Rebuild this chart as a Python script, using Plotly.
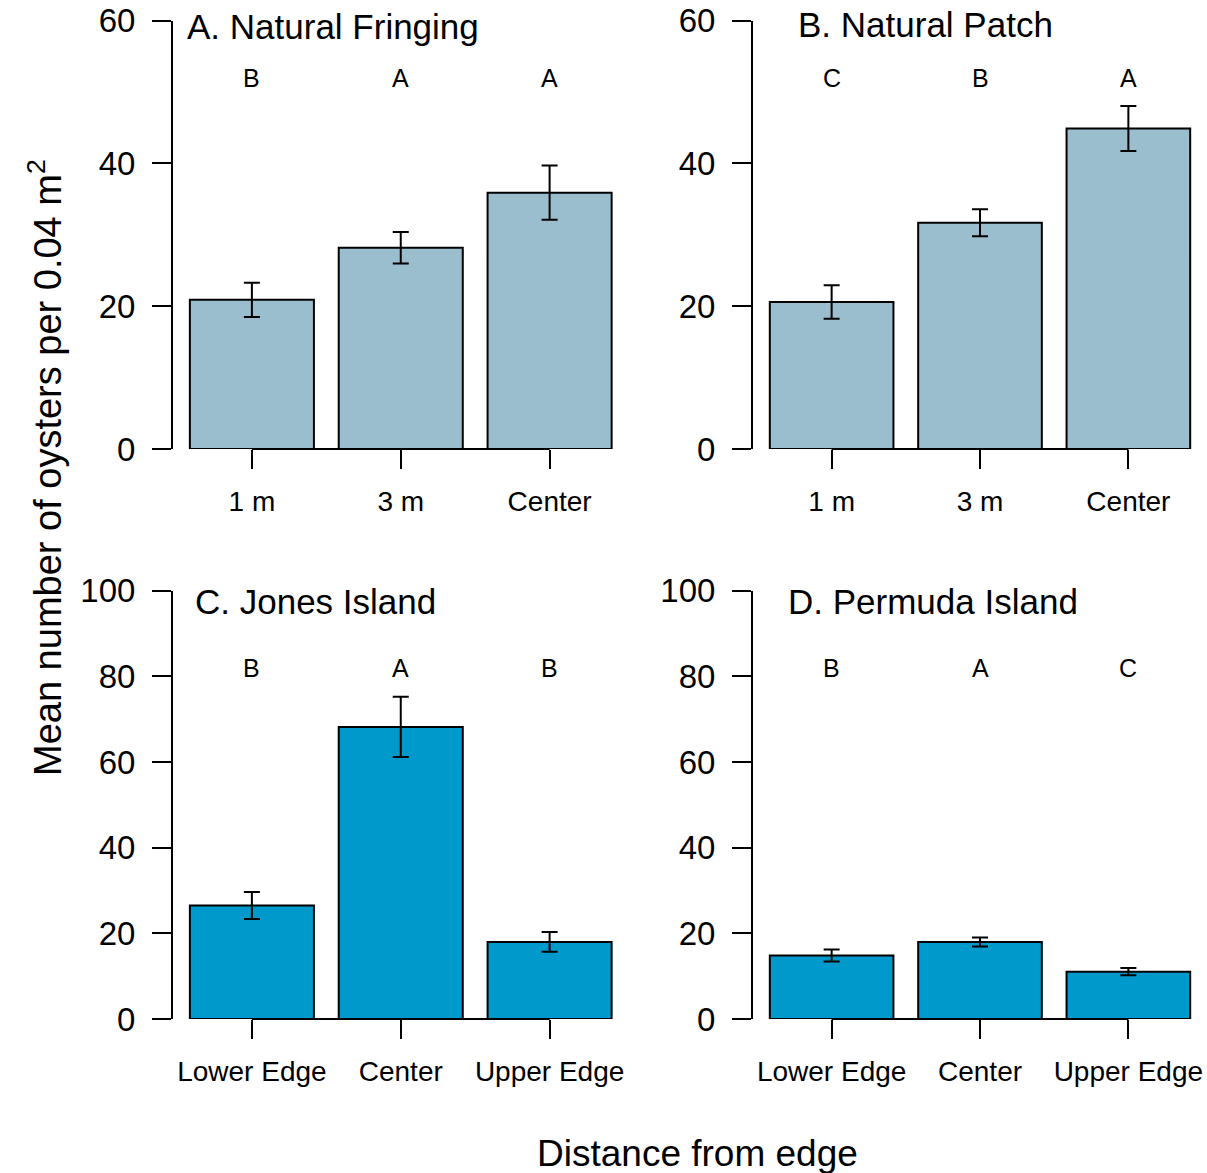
import plotly.graph_objects as go

W, H = 1207, 1173
FONT = "Liberation Sans, Arial, sans-serif"

# ---------------- data ----------------
cats_top = ["1 m", "3 m", "Center"]
cats_bot = ["Lower Edge", "Center", "Upper Edge"]

titles = ["A. Natural Fringing", "B. Natural Patch", "C. Jones Island", "D. Permuda Island"]

mean_A = [20.9, 28.2, 35.9]
se_A = [2.4, 2.2, 3.8]
letters_A = ["B", "A", "A"]

mean_B = [20.6, 31.7, 44.9]
se_B = [2.35, 1.9, 3.15]
letters_B = ["C", "B", "A"]

mean_C = [26.5, 68.2, 18.0]
se_C = [3.15, 7.05, 2.3]
letters_C = ["B", "A", "B"]

mean_D = [14.85, 18.0, 11.05]
se_D = [1.4, 1.05, 0.85]
letters_D = ["B", "A", "C"]

yticks_top = [0, 20, 40, 60]
yticks_bot = [0, 20, 40, 60, 80, 100]
letter_y_top = 52
letter_y_bot = 82

col_top = "#9BBECE"
col_bot = "#0099CC"

# ---------------- layout helpers ----------------
def px_x(p):
    return p / W

def px_y(p):
    return 1 - p / H

dom_x_left = [px_x(173.0), px_x(628.5)]
dom_x_right = [px_x(753.0), 1.0]
dom_y_top = [px_y(449), px_y(20.7)]
dom_y_bot = [px_y(1019), px_y(590.7)]

panels = [
    dict(cats=cats_top, mean=mean_A, se=se_A, letters=letters_A, col=col_top,
         xd=dom_x_left, yd=dom_y_top, yt=yticks_top, ly=letter_y_top,
         title=titles[0], tx=185, ty=27),
    dict(cats=cats_top, mean=mean_B, se=se_B, letters=letters_B, col=col_top,
         xd=dom_x_right, yd=dom_y_top, yt=yticks_top, ly=letter_y_top,
         title=titles[1], tx=795.7, ty=25),
    dict(cats=cats_bot, mean=mean_C, se=se_C, letters=letters_C, col=col_bot,
         xd=dom_x_left, yd=dom_y_bot, yt=yticks_bot, ly=letter_y_bot,
         title=titles[2], tx=193, ty=601),
    dict(cats=cats_bot, mean=mean_D, se=se_D, letters=letters_D, col=col_bot,
         xd=dom_x_right, yd=dom_y_bot, yt=yticks_bot, ly=letter_y_bot,
         title=titles[3], tx=786, ty=601),
]

fig = go.Figure()
annotations = []
shapes = []
LW = 2

for i, p in enumerate(panels):
    n = "" if i == 0 else str(i + 1)
    xa, ya = "x" + n, "y" + n
    fig.add_trace(go.Bar(
        x=p["cats"], y=p["mean"], xaxis=xa, yaxis=ya,
        marker=dict(color=p["col"], line=dict(color="black", width=LW)),
        error_y=dict(type="data", array=p["se"], visible=True,
                     color="black", thickness=LW, width=8),
        cliponaxis=False, showlegend=False, hoverinfo="skip",
    ))
    axis_common = dict(
        showgrid=False, zeroline=False, ticks="outside", ticklen=19,
        tickwidth=LW, tickcolor="black", linecolor="black", linewidth=LW,
        automargin=False,
    )
    fig.layout["xaxis" + n] = dict(
        axis_common, domain=p["xd"], anchor=ya, showline=False,
        type="category", range=[-0.53, 2.53],
        tickfont=dict(family=FONT, size=28, color="black"),
        ticklabelstandoff=8,
    )
    fig.layout["yaxis" + n] = dict(
        axis_common, domain=p["yd"], anchor=xa, showline=True,
        range=[0, p["yt"][-1]], tickvals=p["yt"],
        tickfont=dict(family=FONT, size=33, color="black"),
        ticklabelstandoff=10,
    )
    # x-axis line from first to last tick (R style)
    shapes.append(dict(type="line", xref=xa, yref=ya + " domain",
                       x0=p["cats"][0], x1=p["cats"][-1], y0=0, y1=0,
                       line=dict(color="black", width=LW)))
    # significance letters
    for c, L in zip(p["cats"], p["letters"]):
        annotations.append(dict(x=c, y=p["ly"], xref=xa, yref=ya, text=L,
                                showarrow=False, xanchor="center", yanchor="middle",
                                font=dict(family=FONT, size=25, color="black")))
    # panel title
    annotations.append(dict(x=px_x(p["tx"]), y=px_y(p["ty"]), xref="paper", yref="paper",
                            text=p["title"], showarrow=False, xanchor="left", yanchor="middle",
                            font=dict(family=FONT, size=35, color="black")))

annotations.append(dict(x=px_x(45), y=px_y(468), xref="paper", yref="paper",
                        text="Mean number of oysters per 0.04 m<sup>2</sup>",
                        textangle=-90, showarrow=False, xanchor="center", yanchor="middle",
                        font=dict(family=FONT, size=38, color="black")))
annotations.append(dict(x=px_x(697.5), y=px_y(1153), xref="paper", yref="paper",
                        text="Distance from edge", showarrow=False,
                        xanchor="center", yanchor="middle",
                        font=dict(family=FONT, size=37, color="black")))

fig.update_layout(
    width=W, height=H, margin=dict(l=0, r=0, t=0, b=0, pad=0, autoexpand=False),
    paper_bgcolor="white", plot_bgcolor="white",
    bargap=1 / 6, annotations=annotations, shapes=shapes,
    font=dict(family=FONT, color="black"),
)

fig.write_html(
    "out.html",
    config={"displayModeBar": False},
    post_script="document.body.style.margin='0px';document.body.style.overflow='hidden';",
)
